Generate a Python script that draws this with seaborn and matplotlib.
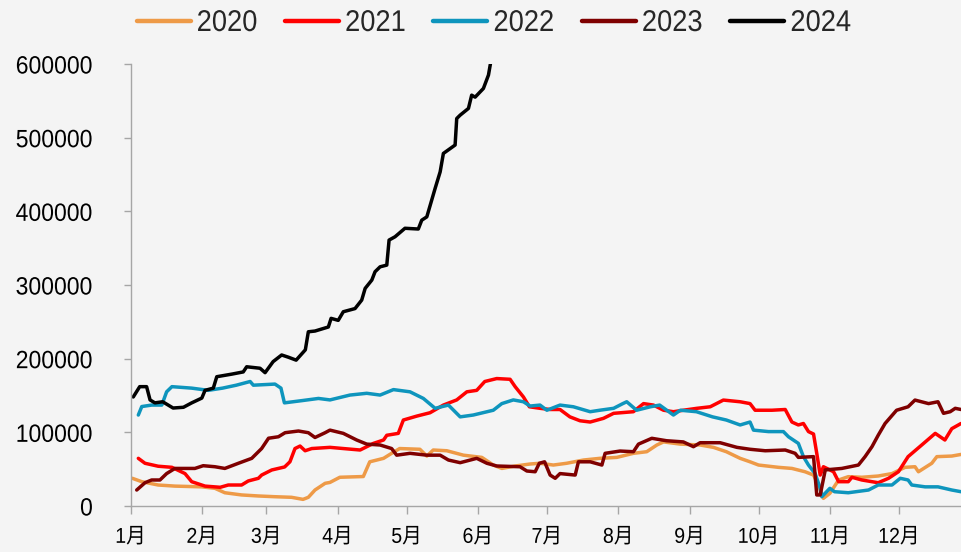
import matplotlib
matplotlib.use("Agg")
import matplotlib.pyplot as plt
import seaborn as sns
import pandas as pd
from matplotlib.lines import Line2D
from matplotlib.patheffects import AbstractPathEffect
from matplotlib.transforms import Affine2D

# ---------------- data (day of year, value) ----------------
years = ["2020", "2021", "2022", "2023", "2024"]
colors = ["#EE9A47", "#FF0000", "#0E95BD", "#7F0000", "#000000"]

day_2020 = [0.8, 4.9, 12, 19.3, 31, 36.7, 41, 48.3, 55.6, 62.8, 70, 75, 77.3, 80.2, 84.6, 86.7,
            91, 101.2, 104, 110, 113.5, 117, 125.8, 128.8, 131.6, 137.5, 144.7, 152.7, 157.7,
            161.4, 167.2, 173.7, 178, 183.8, 189.6, 196.9, 204, 211.4, 218.6, 224.4, 228.8,
            231.7, 239, 247.6, 253.4, 259, 265, 269.3, 273, 281.6, 287.5, 293.2, 296.9, 299,
            301.2, 304, 307.8, 312, 317.9, 325, 331, 336.7, 341, 342.5, 348.3, 350.5, 357, 361]
val_2020 = [37600, 33000, 28500, 27000, 26000, 24000, 18000, 15000, 13600, 12600, 11800, 9000,
            11800, 21700, 30800, 32000, 39000, 40000, 60000, 64700, 71500, 78000, 77000, 67800,
            76000, 75000, 69000, 66000, 55600, 51000, 54300, 57000, 58000, 55600, 58000, 62400,
            64700, 66000, 71500, 73700, 82800, 87000, 84000, 82800, 79600, 73700, 64700, 60000,
            55600, 52500, 51000, 46500, 42000, 28500, 10400, 17200, 35300, 39800, 39000, 40700,
            44000, 52500, 53300, 46500, 58000, 67000, 67800, 70000]

day_2021 = [3.4, 6.3, 12, 18, 23.7, 26.6, 32.4, 39, 42.5, 48.3, 51.2, 55.6, 57, 61.4, 67, 69.3,
            71.5, 73.7, 75.9, 78.8, 86.7, 92.5, 99.8, 105.6, 110, 111.4, 116.4, 118.6, 124.4,
            130.2, 136, 141.8, 146.2, 150.5, 154, 159.2, 165, 167.2, 170.8, 173.4, 178, 182.4,
            186.7, 191, 195.4, 199.8, 205.6, 210, 218.6, 223, 227.3, 231.7, 236, 240.3, 246.2,
            252, 257.7, 265, 269.3, 271.5, 278.8, 284.6, 287.5, 290.3, 292.5, 294.7, 296.9,
            298.3, 299.8, 301.2, 305.6, 307.8, 312, 313.6, 317.9, 325, 329.5, 333.8, 338, 344,
            349.8, 354, 357, 361]
val_2021 = [64700, 58000, 54000, 52500, 44000, 33000, 27000, 25400, 28500, 28500, 34000, 37600,
            42000, 48900, 53000, 60000, 78000, 81400, 75000, 78000, 79600, 78000, 76000, 85000,
            89600, 96000, 98600, 116700, 122000, 126600, 137000, 144000, 155000, 157000, 169000,
            173000, 172000, 162000, 148000, 134700, 132600, 131000, 131000, 121000, 115700,
            114000, 119000, 125800, 128000, 139000, 137000, 130000, 128000, 130000, 132600,
            134700, 143800, 141500, 139000, 130000, 130000, 131000, 114000, 110000, 112000,
            101000, 97700, 71500, 42000, 53300, 46500, 33000, 33000, 39000, 35300, 31600, 37600,
            46500, 67000, 83000, 98600, 89600, 105000, 112000]

day_2022 = [3.4, 4.9, 9.2, 13.6, 15.7, 18, 26.6, 33.8, 40, 46, 52, 53.4, 62.8, 65.4, 66.9, 74.4,
            81.7, 86.7, 95.4, 102.7, 108.5, 114.3, 121.5, 127.3, 132.4, 138.2, 143.3, 149, 157.7,
            161.4, 166.4, 170.8, 173.7, 178, 181, 186.7, 192.5, 199.8, 204, 210, 214, 215.7, 220,
            226, 230, 236, 239, 246, 253, 259, 265, 269.3, 270.8, 277.3, 283.8, 286, 290.3,
            292.5, 294.7, 297.6, 299.8, 300.5, 304, 306, 312, 320.8, 325, 331, 334.6, 338, 339.6,
            345.4, 351, 357, 361]
val_2022 = [123500, 135000, 137000, 137000, 155000, 162000, 160000, 157000, 160000, 164000,
            169000, 164000, 165500, 160000, 140000, 143000, 146000, 144000, 150600, 153000,
            150600, 158000, 155000, 146000, 132600, 137000, 121000, 123500, 130000, 139000,
            144000, 141500, 135700, 137000, 130000, 137000, 134700, 128000, 130000, 132600,
            139000, 141500, 130000, 134700, 137000, 123500, 130000, 128000, 121000, 116700,
            110000, 114000, 103000, 101000, 101000, 94000, 85000, 67000, 55600, 44000, 24000,
            12600, 24000, 19400, 18000, 21700, 28500, 28500, 37600, 35300, 28500, 26000, 26000,
            21700, 19400]

day_2023 = [2.7, 6.3, 9.2, 12.8, 15.7, 19.3, 28, 31.6, 36.7, 41, 46.9, 52.7, 57, 60, 64.3, 67.2,
            73, 77.3, 80.2, 84.6, 86.7, 92.5, 98.3, 102.7, 108.5, 113.5, 115.7, 121.5, 128.8,
            134.6, 138.2, 143.3, 150.5, 154.9, 159.2, 169.3, 172.3, 175.9, 177.7, 180, 182.4,
            184.6, 186.7, 193.3, 194.7, 199.8, 204.9, 206.3, 212.8, 218.6, 220.8, 226.6, 233,
            240.3, 244.7, 247.6, 256.3, 263.6, 269.3, 275.9, 284.6, 288.9, 290.3, 296.9, 298.3,
            299.8, 302, 309.2, 316.4, 319.3, 322.3, 325, 328, 333, 338, 341, 346.9, 351, 353.4,
            356.3, 358.5, 361]
val_2023 = [21700, 31600, 35300, 35300, 44000, 51000, 51000, 54700, 53300, 51000, 58000, 64700,
            78000, 92000, 94000, 99500, 101800, 99500, 93000, 99500, 103000, 98600, 89600, 84000,
            82800, 78000, 69000, 71500, 69000, 69000, 62400, 58800, 64700, 58000, 54300, 53300,
            47500, 46500, 58000, 60000, 42000, 37600, 44000, 42000, 60000, 60000, 55600, 71500,
            74600, 73700, 84000, 91900, 88600, 87000, 80500, 85900, 85900, 79600, 77000, 75000,
            76000, 71500, 66000, 67000, 15000, 15000, 49000, 51000, 55600, 67000, 80500, 96000,
            112000, 130000, 134700, 143800, 139000, 141500, 125800, 128000, 132600, 131000]

day_2024 = [1.2, 4, 7, 8.5, 10.6, 14, 18.5, 23, 26.6, 31, 32.4, 36, 37.5, 44, 49, 50.5, 56.3,
            58.5, 62, 65.7, 68.6, 72, 76, 77.3, 80.2, 86, 87.2, 90.3, 92.5, 97.6, 100.5, 102,
            104.9, 106.3, 108.5, 111.4, 112.4, 115, 119.3, 125.1, 126.6, 128.8, 132.4, 134.6,
            136, 141.1, 141.8, 143.3, 146.9, 148.3, 149.8, 153.4, 155.6, 156.6]
val_2024 = [148000, 162000, 162000, 144000, 140000, 141500, 133000, 134000, 140000, 146500,
            157000, 160000, 175500, 179000, 182000, 189000, 187000, 181000, 196000, 205000,
            202000, 198000, 212000, 236500, 237500, 243000, 254700, 252000, 263700, 268000,
            279500, 295400, 306700, 318000, 324700, 327000, 361000, 365500, 377000, 376000,
            388000, 392500, 431000, 453600, 478600, 490000, 526000, 530600, 539700, 557700,
            555000, 566800, 585000, 603000]

month_days = [0, 31, 59, 90, 120, 151, 181, 212, 243, 273, 304, 334]
month_labels = ["1月", "2月", "3月", "4月", "5月", "6月", "7月", "8月", "9月", "10月", "11月", "12月"]
y_ticks = [0, 100000, 200000, 300000, 400000, 500000, 600000]


# --------- horizontal condensing of text glyphs (text stays real text) ---------
class HCondense(AbstractPathEffect):
    def __init__(self, sx, anchor="left"):
        super().__init__()
        self.sx = sx
        self.anchor = anchor

    def draw_path(self, renderer, gc, tpath, affine, rgbFace=None):
        if self.anchor == "center":
            ext = tpath.get_extents()
            cx = (ext.x0 + ext.x1) / 2.0
        elif self.anchor == "right":
            cx = tpath.get_extents().x1
        else:
            cx = 0.0
        t = Affine2D().translate(-cx, 0).scale(self.sx, 1.0).translate(cx, 0) + affine
        renderer.draw_path(gc, tpath, t, rgbFace)


# ---------------- build frame ----------------
series = {
    "2020": (day_2020, val_2020),
    "2021": (day_2021, val_2021),
    "2022": (day_2022, val_2022),
    "2023": (day_2023, val_2023),
    "2024": (day_2024, val_2024),
}
rows = []
for yr, (dd, vv) in series.items():
    for d, v in zip(dd, vv):
        rows.append({"day": d, "value": v, "year": yr})
df = pd.DataFrame(rows)

sns.set_theme(style="white")
BG = "#F4F4F4"
fam = ["Liberation Sans", "Noto Sans CJK SC", "DejaVu Sans"]
plt.rcParams["font.family"] = fam

fig = plt.figure(figsize=(9.61, 5.52), dpi=100, facecolor=BG)
ax = fig.add_axes([130.5 / 961, 1 - 506 / 552, 1 - 130.5 / 961, (506 - 64) / 552])
ax.set_facecolor(BG)

sns.lineplot(data=df, x="day", y="value", hue="year", hue_order=years,
             palette=dict(zip(years, colors)), estimator=None, sort=False,
             linewidth=2.5, ax=ax, legend=False)

ax.set_xlim(0, 361)
ax.set_ylim(0, 600000)
ax.set_xlabel("")
ax.set_ylabel("")

ax.set_xticks(month_days)
ax.set_xticklabels(month_labels, fontsize=15.5, family=fam)
ax.set_yticks(y_ticks)
ax.set_yticklabels([str(t) for t in y_ticks], fontsize=18)

for s in ["top", "right"]:
    ax.spines[s].set_visible(False)
for s in ["left", "bottom"]:
    ax.spines[s].set_color("#A6A6A6")
    ax.spines[s].set_linewidth(1.0)

ax.tick_params(axis="x", direction="out", length=6, width=1, color="#A6A6A6",
               pad=9, labelcolor="black", bottom=True)
ax.tick_params(axis="y", direction="out", length=5, width=1, color="#A6A6A6",
               pad=22, labelcolor="black", left=True)
ax.grid(False)

for t in ax.get_xticklabels():
    t.set_path_effects([HCondense(0.91, "center")])
for t in ax.get_yticklabels():
    t.set_path_effects([HCondense(0.92, "right")])

handles = [Line2D([0], [0], color=c, lw=3.2) for c in colors]
leg = fig.legend(handles, years, loc="center", bbox_to_anchor=(0.517, 1 - 23 / 552),
                 ncol=5, frameon=False, prop={"family": fam, "size": 21.6},
                 handlelength=1.8, handletextpad=0.2, columnspacing=0.73,
                 borderpad=0, borderaxespad=0)
for t in leg.get_texts():
    t.set_path_effects([HCondense(0.91, "left")])

fig.savefig("out.png", dpi=100, facecolor=BG)
